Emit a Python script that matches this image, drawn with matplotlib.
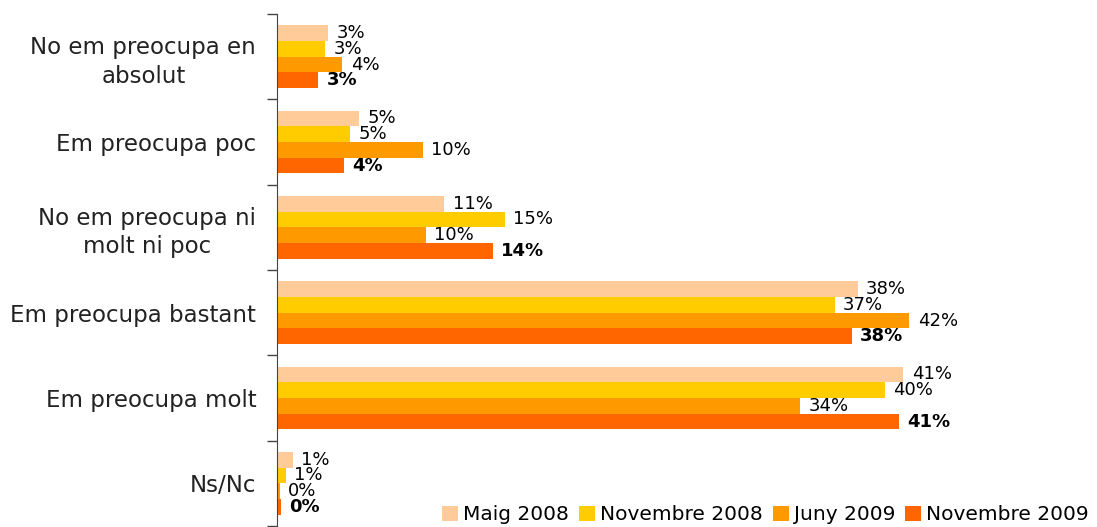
import matplotlib
matplotlib.use("Agg")
import matplotlib.pyplot as plt
import numpy as np

categories = ["No em preocupa en\nabsolut", "Em preocupa poc", "No em preocupa ni\nmolt ni poc",
              "Em preocupa bastant", "Em preocupa molt", "Ns/Nc"]
series_names = ["Maig 2008", "Novembre 2008", "Juny 2009", "Novembre 2009"]
maig_2008 = [3.35, 5.4, 11.0, 38.2, 41.2, 1.05]
nov_2008 = [3.15, 4.8, 15.0, 36.7, 40.0, 0.6]
juny_2009 = [4.3, 9.6, 9.8, 41.6, 34.4, 0.2]
nov_2009 = [2.7, 4.4, 14.2, 37.8, 40.9, 0.26]
colors = ["#FFCC99", "#FFCC00", "#FF9900", "#FF6600"]

plt.rcParams['font.family'] = ['DejaVu Sans']
fig = plt.figure(figsize=(10.97, 5.27), dpi=100)
ax = fig.add_axes([277/1097, 1 - 526/527, 1 - 277/1097, (526 - 14)/527])

series = [maig_2008, nov_2008, juny_2009, nov_2009]
h = 0.184
y = np.arange(len(categories))
for k, (vals, col, name) in enumerate(zip(series, colors, series_names)):
    pos = y + (k - 1.5) * h
    ax.barh(pos, vals, height=h, color=col, label=name, linewidth=0)
    for p, v in zip(pos, vals):
        ax.annotate(f"{round(v):d}%", (v, p), xytext=(6, 0), textcoords="offset points",
                    va="center", ha="left", fontsize=13,
                    fontweight="bold" if k == 3 else "normal", color="black")

ax.set_ylim(len(categories) - 0.5, -0.5)
ax.set_xlim(0, 820 / 15.2)
ax.set_yticks(y)
ax.set_yticklabels(categories, fontsize=16.5, color="#222222", linespacing=1.3)
for lbl in ax.get_yticklabels():
    lbl.set_multialignment("center")
ax.tick_params(axis="y", which="major", length=0, pad=15)
ax.set_yticks(np.arange(-0.5, len(categories), 1.0), minor=True)
ax.tick_params(axis="y", which="minor", length=7, width=1, color="#444444")
ax.set_xticks([])
for s in ["top", "right", "bottom"]:
    ax.spines[s].set_visible(False)
ax.spines["left"].set_color("#444444")

fig.legend(loc="lower right", bbox_to_anchor=(1.0, -0.01), ncol=4, frameon=False,
           fontsize=14.5, handlelength=0.8, handleheight=0.8, handletextpad=0.25,
           columnspacing=0.5, borderaxespad=0.0)

fig.savefig("out.png", dpi=100)
